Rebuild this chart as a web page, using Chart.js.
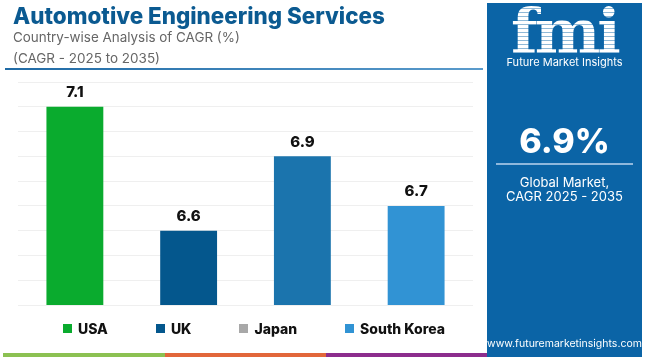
<!DOCTYPE html>
<html>
<head>
<meta charset="utf-8">
<script src="https://cdn.jsdelivr.net/npm/chart.js@4/dist/chart.umd.min.js"></script>
<style>
  html, body { margin:0; padding:0; background:#fff; }
  body { width:650px; height:357px; position:relative; overflow:hidden; font-family: Inter, "Open Sans", sans-serif; }
  .abs { position:absolute; white-space:nowrap; }
  #title { left:13px; top:4px; font-weight:800; color:#0b5a91; line-height:24px; font-size:22px; }
  .sub { left:13px; color:#666; font-weight:400; line-height:18px; font-size:15px; }
  #rule { left:5px; top:68px; width:478px; height:2px; background:linear-gradient(90deg,#1f6aa5,#5a9bcc); }
  #chartWrap { left:0; top:0; width:487px; height:357px; }
  #legend { left:0; top:319px; width:508px; height:18px; display:flex; justify-content:center; align-items:center; gap:48px; }
  .li { display:flex; align-items:center; font-weight:800; font-size:14px; color:#111; }
  .sw { width:9px; height:9px; margin-right:6px; }
  #panel { left:487px; top:3px; width:155px; height:354px; background:#0b64a6; color:#fff; }
  #fmi { left:0; width:155px; top:-2px; text-align:center; font-family:"DejaVu Serif", serif; font-weight:bold; font-size:62px; line-height:62px;
         background: repeating-linear-gradient(180deg,#fff 0 3px, rgba(255,255,255,0.55) 3px 4px); -webkit-background-clip:text; background-clip:text; color:transparent; letter-spacing:-3px; }
  #fmiSub { left:0; width:155px; top:52px; text-align:center; font-size:11px; line-height:14px; }
  #big { left:0; width:155px; top:118px; text-align:center; font-weight:800; font-size:34px; line-height:40px; }
  #pline { left:9px; top:160px; width:137px; height:2px; background:#8fb8dc; }
  #pt1 { left:0; width:155px; top:171px; text-align:center; font-size:13px; line-height:16px; }
  #pt2 { left:0; width:155px; top:185px; text-align:center; font-size:13px; line-height:16px; }
  #url { left:0; width:155px; top:334px; text-align:center; font-size:10.5px; line-height:14px; }
  .strip { top:353px; height:4px; }
</style>
</head>
<body>
<div id="chartWrap" class="abs"><canvas id="c" width="487" height="357"></canvas></div>
<div id="title" class="abs">Automotive Engineering Services</div>
<div id="sub1" class="abs sub" style="top:28px">Country-wise Analysis of CAGR (%)</div>
<div id="sub2" class="abs sub" style="top:49px">(CAGR - 2025 to 2035)</div>
<div id="rule" class="abs"></div>
<div id="legend" class="abs"></div>
<div class="abs strip" style="left:3px;width:162px;background:#8cc152"></div>
<div class="abs strip" style="left:165px;width:161px;background:#e2673a"></div>
<div class="abs strip" style="left:326px;width:161px;background:#8c2d8d"></div>
<div id="panel" class="abs">
  <div id="fmi" class="abs">fmi</div>
  <div id="fmiSub" class="abs">Future Market Insights</div>
  <div id="big" class="abs">6.9%</div>
  <div id="pline" class="abs"></div>
  <div id="pt1" class="abs">Global Market,</div>
  <div id="pt2" class="abs">CAGR 2025 - 2035</div>
  <div id="url" class="abs">www.futuremarketinsights.com</div>
</div>
<script>
const categories = ['USA', 'UK', 'Japan', 'South Korea'];
const values = [7.1, 6.6, 6.9, 6.7];
const barColors = ['#0aab2e', '#04578d', '#1b74ad', '#3193d4'];
const legendColors = ['#0aab2e', '#04578d', '#a8a8a8', '#3193d4'];
const yMin = 6.3, yMax = 7.2, yStep = 0.1;

function fitWidth(id, target) {
  const el = document.getElementById(id);
  const fs = parseFloat(getComputedStyle(el).fontSize);
  const w = el.getBoundingClientRect().width;
  el.style.fontSize = (fs * target / w).toFixed(2) + 'px';
}
fitWidth('title', 372);
fitWidth('sub1', 227);
fitWidth('sub2', 147);

const legend = document.getElementById('legend');
categories.forEach((c, i) => {
  const d = document.createElement('div'); d.className = 'li';
  d.innerHTML = '<span class="sw" style="background:' + legendColors[i] + '"></span><span>' + c + '</span>';
  legend.appendChild(d);
});

const labelPlugin = {
  id: 'valLabels',
  afterDatasetsDraw(chart) {
    const ctx = chart.ctx;
    const meta = chart.getDatasetMeta(0);
    ctx.save();
    ctx.font = '800 15px Inter, sans-serif';
    ctx.fillStyle = '#111';
    ctx.textAlign = 'center';
    ctx.textBaseline = 'middle';
    meta.data.forEach((bar, i) => {
      ctx.fillText(values[i].toFixed(1), bar.x, bar.y - 14);
    });
    ctx.restore();
  }
};

new Chart(document.getElementById('c'), {
  type: 'bar',
  data: {
    labels: categories,
    datasets: [{ data: values, backgroundColor: barColors, borderWidth: 0, barPercentage: 0.5, categoryPercentage: 1 }]
  },
  options: {
    responsive: false,
    animation: false,
    devicePixelRatio: 1,
    layout: { padding: { left: 18, right: 14, top: 82, bottom: 52 } },
    plugins: { legend: { display: false }, tooltip: { enabled: false } },
    scales: {
      x: { display: true, grid: { display: false, drawTicks: false }, border: { display: false }, ticks: { display: false } },
      y: { min: yMin, max: yMax, ticks: { display: false, stepSize: yStep }, grid: { color: '#efefef', lineWidth: 1, drawTicks: false }, border: { display: false } }
    }
  },
  plugins: [labelPlugin]
});
</script>
</body>
</html>
